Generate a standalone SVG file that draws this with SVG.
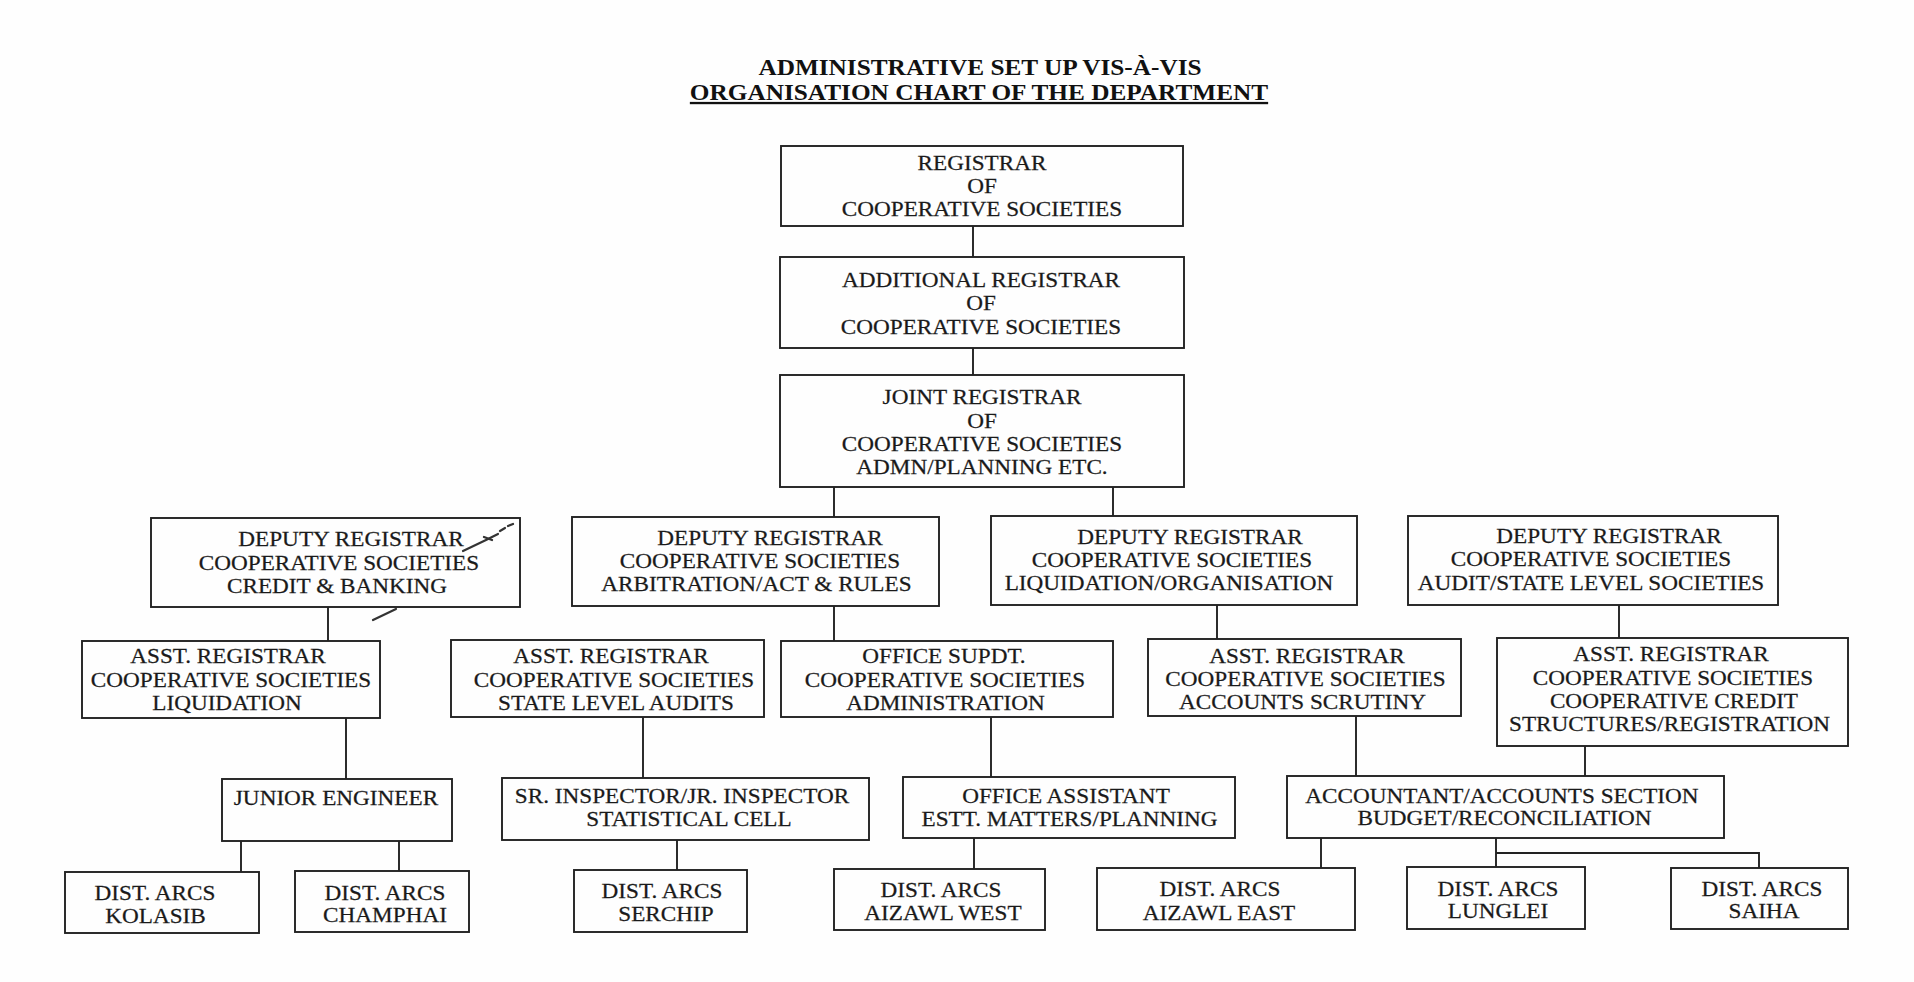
<svg xmlns="http://www.w3.org/2000/svg" width="1914" height="982" viewBox="0 0 1914 982">
<style>
  .bg { fill: #fefefe; }
  .box { fill: none; stroke: #222; stroke-width: 1.9; }
  .con { fill: none; stroke: #222; stroke-width: 1.9; }
  .t { font-family: "Liberation Serif", "Times New Roman", serif; font-size: 21.3px; fill: #1a1a1a; stroke: #1a1a1a; stroke-width: 0.25; text-anchor: middle; transform-box: fill-box; transform-origin: center; transform: scaleX(1.09); }
  .title { font-family: "Liberation Serif", "Times New Roman", serif; font-size: 23px; font-weight: bold; fill: #111; text-anchor: middle; transform-box: fill-box; transform-origin: center; transform: scaleX(1.1); }
  .mark { fill: none; stroke: #333; stroke-width: 2.2; stroke-linecap: round; }
</style>
<rect class="bg" x="0" y="0" width="1914" height="982"/>

<g id="title">
  <text class="title" x="980" y="75">ADMINISTRATIVE SET UP VIS-À-VIS</text>
  <text class="title" x="979" y="100" text-decoration="underline">ORGANISATION CHART OF THE DEPARTMENT</text>
</g>

<g id="connectors">
  <path class="con" d="M973,226 V257"/>
  <path class="con" d="M973,348 V375"/>
  <path class="con" d="M834,487 V517"/>
  <path class="con" d="M1113,487 V516"/>
  <path class="con" d="M328,607 V641"/>
  <path class="con" d="M346,718 V779"/>
  <path class="con" d="M241,841 V872"/>
  <path class="con" d="M399,841 V871"/>
  <path class="con" d="M834,606 V641"/>
  <path class="con" d="M643,717 V778"/>
  <path class="con" d="M677,840 V870"/>
  <path class="con" d="M991,717 V777"/>
  <path class="con" d="M974,838 V869"/>
  <path class="con" d="M1217,605 V639"/>
  <path class="con" d="M1356,716 V776"/>
  <path class="con" d="M1619,605 V638"/>
  <path class="con" d="M1585,746 V776"/>
  <path class="con" d="M1321,838 V868"/>
  <path class="con" d="M1496,838 V867"/>
  <path class="con" d="M1496,853 H1759 V868"/>
</g>

<g id="registrar">
  <rect class="box" x="781" y="146" width="402" height="80"/>
  <text class="t" x="982" y="170">REGISTRAR</text>
  <text class="t" x="982" y="193">OF</text>
  <text class="t" x="982" y="216">COOPERATIVE SOCIETIES</text>
</g>

<g id="additional-registrar">
  <rect class="box" x="780" y="257" width="404" height="91"/>
  <text class="t" x="981" y="287">ADDITIONAL REGISTRAR</text>
  <text class="t" x="981" y="310.5">OF</text>
  <text class="t" x="981" y="334">COOPERATIVE SOCIETIES</text>
</g>

<g id="joint-registrar">
  <rect class="box" x="780" y="375" width="404" height="112"/>
  <text class="t" x="982" y="404.5">JOINT REGISTRAR</text>
  <text class="t" x="982" y="428">OF</text>
  <text class="t" x="982" y="451">COOPERATIVE SOCIETIES</text>
  <text class="t" x="982" y="474.5">ADMN/PLANNING ETC.</text>
</g>

<g id="dr-credit">
  <rect class="box" x="151" y="518" width="369" height="89"/>
  <text class="t" x="351" y="546.5">DEPUTY REGISTRAR</text>
  <text class="t" x="339" y="570">COOPERATIVE SOCIETIES</text>
  <text class="t" x="337" y="593">CREDIT &amp; BANKING</text>
</g>

<g id="dr-arbitration">
  <rect class="box" x="572" y="517" width="367" height="89"/>
  <text class="t" x="770" y="545">DEPUTY REGISTRAR</text>
  <text class="t" x="760" y="568.5">COOPERATIVE SOCIETIES</text>
  <text class="t" x="756.5" y="591.5">ARBITRATION/ACT &amp; RULES</text>
</g>

<g id="dr-liquidation">
  <rect class="box" x="991" y="516" width="366" height="89"/>
  <text class="t" x="1190" y="544">DEPUTY REGISTRAR</text>
  <text class="t" x="1172" y="567.5">COOPERATIVE SOCIETIES</text>
  <text class="t" x="1169" y="590.5">LIQUIDATION/ORGANISATION</text>
</g>

<g id="dr-audit">
  <rect class="box" x="1408" y="516" width="370" height="89"/>
  <text class="t" x="1609" y="543">DEPUTY REGISTRAR</text>
  <text class="t" x="1591" y="566.5">COOPERATIVE SOCIETIES</text>
  <text class="t" x="1591" y="590">AUDIT/STATE LEVEL SOCIETIES</text>
</g>

<g id="ar-liquidation">
  <rect class="box" x="82" y="641" width="298" height="77"/>
  <text class="t" x="228" y="663.5">ASST. REGISTRAR</text>
  <text class="t" x="231" y="687">COOPERATIVE SOCIETIES</text>
  <text class="t" x="227" y="710">LIQUIDATION</text>
</g>

<g id="ar-state-audits">
  <rect class="box" x="451" y="640" width="313" height="77"/>
  <text class="t" x="611" y="663.5">ASST. REGISTRAR</text>
  <text class="t" x="614" y="687">COOPERATIVE SOCIETIES</text>
  <text class="t" x="616" y="710">STATE LEVEL AUDITS</text>
</g>

<g id="office-supdt">
  <rect class="box" x="781" y="641" width="332" height="76"/>
  <text class="t" x="944" y="663.5">OFFICE SUPDT.</text>
  <text class="t" x="945" y="687">COOPERATIVE SOCIETIES</text>
  <text class="t" x="945.5" y="710">ADMINISTRATION</text>
</g>

<g id="ar-accounts">
  <rect class="box" x="1148" y="639" width="313" height="77"/>
  <text class="t" x="1307" y="663">ASST. REGISTRAR</text>
  <text class="t" x="1305.5" y="686">COOPERATIVE SOCIETIES</text>
  <text class="t" x="1302.5" y="709">ACCOUNTS SCRUTINY</text>
</g>

<g id="ar-credit-structures">
  <rect class="box" x="1497" y="638" width="351" height="108"/>
  <text class="t" x="1671" y="661.5">ASST. REGISTRAR</text>
  <text class="t" x="1673" y="685">COOPERATIVE SOCIETIES</text>
  <text class="t" x="1674" y="708.5">COOPERATIVE CREDIT</text>
  <text class="t" x="1669.5" y="731.5">STRUCTURES/REGISTRATION</text>
</g>

<g id="junior-engineer">
  <rect class="box" x="222" y="779" width="230" height="62"/>
  <text class="t" x="336" y="805">JUNIOR ENGINEER</text>
</g>

<g id="sr-inspector">
  <rect class="box" x="502" y="778" width="367" height="62"/>
  <text class="t" x="682" y="803">SR. INSPECTOR/JR. INSPECTOR</text>
  <text class="t" x="689" y="826.5">STATISTICAL CELL</text>
</g>

<g id="office-assistant">
  <rect class="box" x="903" y="777" width="332" height="61"/>
  <text class="t" x="1066" y="803.5">OFFICE ASSISTANT</text>
  <text class="t" x="1069.5" y="826">ESTT. MATTERS/PLANNING</text>
</g>

<g id="accountant">
  <rect class="box" x="1287" y="776" width="437" height="62"/>
  <text class="t" x="1502" y="803.5">ACCOUNTANT/ACCOUNTS SECTION</text>
  <text class="t" x="1504.5" y="825.5">BUDGET/RECONCILIATION</text>
</g>

<g id="dist-kolasib">
  <rect class="box" x="65" y="872" width="194" height="61"/>
  <text class="t" x="155" y="900.5">DIST. ARCS</text>
  <text class="t" x="155.5" y="923">KOLASIB</text>
</g>

<g id="dist-champhai">
  <rect class="box" x="295" y="871" width="174" height="61"/>
  <text class="t" x="385" y="900.5">DIST. ARCS</text>
  <text class="t" x="385" y="922.5">CHAMPHAI</text>
</g>

<g id="dist-serchip">
  <rect class="box" x="574" y="870" width="173" height="62"/>
  <text class="t" x="662" y="898">DIST. ARCS</text>
  <text class="t" x="666" y="921.5">SERCHIP</text>
</g>

<g id="dist-aizawl-west">
  <rect class="box" x="834" y="869" width="211" height="61"/>
  <text class="t" x="941" y="897">DIST. ARCS</text>
  <text class="t" x="943" y="920">AIZAWL WEST</text>
</g>

<g id="dist-aizawl-east">
  <rect class="box" x="1097" y="868" width="258" height="62"/>
  <text class="t" x="1220" y="896.5">DIST. ARCS</text>
  <text class="t" x="1219" y="920">AIZAWL EAST</text>
</g>

<g id="dist-lunglei">
  <rect class="box" x="1407" y="867" width="178" height="62"/>
  <text class="t" x="1498" y="896">DIST. ARCS</text>
  <text class="t" x="1498" y="918.5">LUNGLEI</text>
</g>

<g id="dist-saiha">
  <rect class="box" x="1671" y="868" width="177" height="61"/>
  <text class="t" x="1762" y="896">DIST. ARCS</text>
  <text class="t" x="1764" y="918.5">SAIHA</text>
</g>

<g id="scan-marks">
  <path class="mark" d="M463,551 L486,540 L498,534" stroke-width="2.8"/>
  <path class="mark" d="M484,537 L492,540 M500,531 L505,528 M508,526 L513,524" stroke-width="1.6"/>
  <path class="mark" d="M373,620 L396,609" stroke-width="1.6"/>
</g>
</svg>
